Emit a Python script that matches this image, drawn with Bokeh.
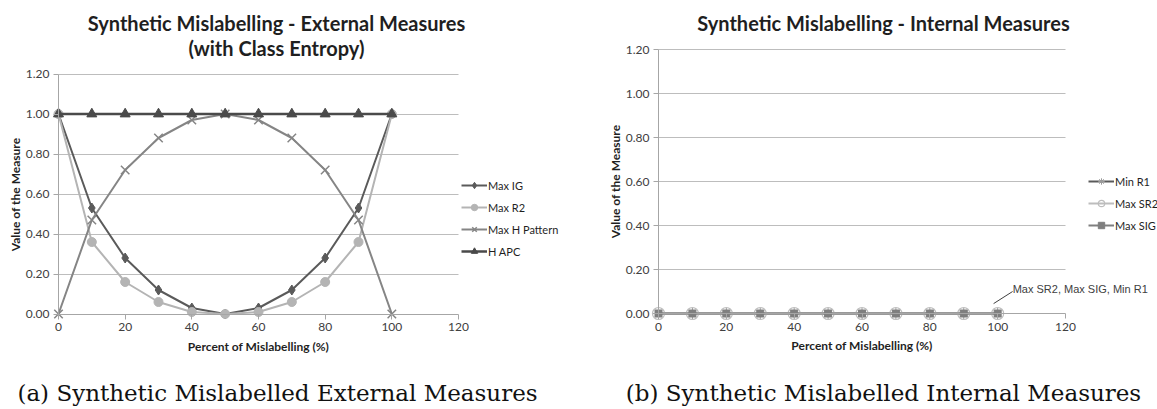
from bokeh.plotting import figure
from bokeh.models import (Range1d, FixedTicker, NumeralTickFormatter, Label, Legend,
                          LegendItem, ColumnDataSource)
from bokeh.layouts import row
from bokeh.embed import file_html
from bokeh.resources import INLINE

# ---------------- data ----------------
pct = [0, 10, 20, 30, 40, 50, 60, 70, 80, 90, 100]
max_ig = [1.00, 0.53, 0.28, 0.12, 0.03, 0.00, 0.03, 0.12, 0.28, 0.53, 1.00]
max_r2 = [1.00, 0.36, 0.16, 0.06, 0.01, 0.00, 0.01, 0.06, 0.16, 0.36, 1.00]
max_h_pattern = [0.00, 0.47, 0.72, 0.88, 0.97, 1.00, 0.97, 0.88, 0.72, 0.47, 0.00]
h_apc = [1.00, 1.00, 1.00, 1.00, 1.00, 1.00, 1.00, 1.00, 1.00, 1.00, 1.00]

min_r1 = [0.0] * 11
max_sr2 = [0.0] * 11
max_sig = [0.0] * 11

x_ticks = [0, 20, 40, 60, 80, 100, 120]
y_ticks = [0.0, 0.2, 0.4, 0.6, 0.8, 1.0, 1.2]
X_MAX, Y_MAX = 120, 1.2

FONT = "Lato"
SERIF = "DejaVu Serif"
TXT = "#1f1f1f"
H = 409


def make_fig(w, px_x0, px_x1, px_y0, px_y1):
    """Figure whose frame is the whole canvas; the chart's axes sit at
    pixel positions px_x0..px_x1 (x = 0..120) and px_y0..px_y1 (y = 0..1.2, from top)."""
    sx = (px_x1 - px_x0) / X_MAX
    sy = (px_y0 - px_y1) / Y_MAX
    xr = Range1d(-px_x0 / sx, (w - px_x0) / sx)
    yr = Range1d(-(H - px_y0) / sy, px_y0 / sy)
    p = figure(frame_width=w, frame_height=H, x_range=xr, y_range=yr,
               min_border=0, output_backend="svg", toolbar_location=None)
    p.xaxis.fixed_location = 0
    p.yaxis.fixed_location = 0
    p.xaxis.bounds = (0, X_MAX)
    p.yaxis.bounds = (0, Y_MAX)
    p.xaxis.ticker = FixedTicker(ticks=x_ticks)
    p.yaxis.ticker = FixedTicker(ticks=y_ticks)
    p.yaxis.formatter = NumeralTickFormatter(format="0.00")
    for ax in (p.xaxis, p.yaxis):
        ax.axis_line_color = "#a6a6a6"
        ax.major_tick_line_color = "#a6a6a6"
        ax.major_tick_out = 5
        ax.major_tick_in = 0
        ax.minor_tick_line_color = None
        ax.major_label_text_font = FONT
        ax.major_label_text_font_size = "12px"
        ax.major_label_text_color = "#404040"
        ax.axis_label_text_font = FONT
        ax.axis_label_text_font_style = "bold"
        ax.axis_label_text_font_size = "12px"
        ax.axis_label_text_color = TXT
    p.xaxis.axis_label = "Percent of Mislabelling (%)"
    p.yaxis.axis_label = "Value of the Measure"
    p.xaxis.axis_label_standoff = 4
    p.yaxis.axis_label_standoff = 0
    p.xaxis.major_label_standoff = 4
    p.yaxis.major_label_standoff = 4
    p.xgrid.grid_line_color = None
    g = p.ygrid[0]
    g.grid_line_color = "#bdbdbd"
    g.ticker = FixedTicker(ticks=[t for t in y_ticks if t > 0])
    g.bounds = (0, Y_MAX)
    if "cross_bounds" in g.properties():
        g.cross_bounds = (0, X_MAX)
    else:
        g.grid_line_color = None
        gy = [t for t in y_ticks if t > 0]
        p.segment(x0=[0] * len(gy), y0=gy, x1=[X_MAX] * len(gy), y1=gy,
                  line_color="#bdbdbd", line_width=1)
    p.outline_line_color = None
    p.background_fill_color = "white"
    p.border_fill_color = "white"
    return p


def text_label(p, x, y, txt, font, size, bold=False, color=TXT):
    p.add_layout(Label(x=x, y=H - y, x_units="screen", y_units="screen", text=txt,
                       text_align="center", text_baseline="middle", text_font=font,
                       text_font_style="bold" if bold else "normal",
                       text_font_size=size, text_color=color))


# ---------------- left chart ----------------
W1 = 580
p1 = make_fig(W1, 58, 458, 313.5, 73.5)

C_IG, C_R2, C_HP, C_APC = "#5a5a5a", "#b4b4b4", "#858585", "#4a4a4a"
r_ig_l = p1.line(pct, max_ig, line_color=C_IG, line_width=2)
r_ig_m = p1.scatter(pct, max_ig, marker="diamond", size=10, color=C_IG)
r_r2_l = p1.line(pct, max_r2, line_color=C_R2, line_width=2)
r_r2_m = p1.scatter(pct, max_r2, marker="circle", size=9, color=C_R2)
r_hp_l = p1.line(pct, max_h_pattern, line_color=C_HP, line_width=2)
r_hp_m = p1.scatter(pct, max_h_pattern, marker="x", size=12, line_color=C_HP, line_width=1.5)
r_apc_l = p1.line(pct, h_apc, line_color=C_APC, line_width=2.5)
r_apc_m = p1.scatter(pct, h_apc, marker="triangle", size=10, color=C_APC)

leg_kw = dict(padding=0, margin=0, spacing=6, glyph_height=16, glyph_width=26,
              label_height=16, label_standoff=1, label_text_font=FONT,
              label_text_color=TXT, background_fill_alpha=0, border_line_color=None)
leg1 = Legend(items=[
    LegendItem(label="Max IG", renderers=[r_ig_l, r_ig_m]),
    LegendItem(label="Max R2", renderers=[r_r2_l, r_r2_m]),
    LegendItem(label="Max H Pattern", renderers=[r_hp_l, r_hp_m]),
    LegendItem(label="H APC", renderers=[r_apc_l, r_apc_m]),
], location=(461, H - 259), label_text_font_size="11px", **leg_kw)
p1.add_layout(leg1)

text_label(p1, 276, 22, "Synthetic Mislabelling - External Measures", FONT, "20px", True)
text_label(p1, 276, 47, "(with Class Entropy)", FONT, "20px", True)
text_label(p1, 277, 392, "(a) Synthetic Mislabelled External Measures", SERIF, "23px",
           color="#111111")

# ---------------- right chart ----------------
W2 = 577
p2 = make_fig(W2, 78, 485, 313, 49)

C_R1, C_SR2, C_SIG = "#5a5a5a", "#bdbdbd", "#7f7f7f"
r_r1_l = p2.line(pct, min_r1, line_color=C_R1, line_width=2)
r_r1_m = p2.scatter(pct, min_r1, marker="asterisk", size=11, line_color="#9a9a9a", line_width=1)
r_sr2_l = p2.line(pct, max_sr2, line_color=C_SR2, line_width=2)
r_sr2_m = p2.scatter(pct, max_sr2, marker="circle", size=12, line_color=C_SR2,
                     fill_color=None, line_width=1.2)
r_sig_l = p2.line(pct, max_sig, line_color=C_SIG, line_width=2)
r_sig_m = p2.scatter(pct, max_sig, marker="square", size=7, color=C_SIG)

leg2 = Legend(items=[
    LegendItem(label="Min R1", renderers=[r_r1_l, r_r1_m]),
    LegendItem(label="Max SR2", renderers=[r_sr2_l, r_sr2_m]),
    LegendItem(label="Max SIG", renderers=[r_sig_l, r_sig_m]),
], location=(508, H - 233), label_text_font_size="11px", **leg_kw)
p2.add_layout(leg2)

# data label with leader line, anchored to the last point
last_x, last_y = pct[-1], max_sig[-1]
p2.add_layout(Label(x=last_x, y=last_y, x_offset=15, y_offset=25,
                    text="Max SR2, Max SIG, Min R1", text_font="Liberation Sans",
                    text_font_size="11px", text_color="#404040", text_baseline="middle"))
src = ColumnDataSource(dict(x0=[last_x - 1.2], y0=[last_y + 0.045],
                            x1=[last_x + 4.4], y1=[last_y + 0.1]))
p2.segment("x0", "y0", "x1", "y1", source=src, line_color="#404040", line_width=1)

text_label(p2, 883 - W1, 22, "Synthetic Mislabelling - Internal Measures", FONT, "20px", True)
text_label(p2, 883 - W1, 392, "(b) Synthetic Mislabelled Internal Measures", SERIF, "23px",
           color="#111111")

layout = row(p1, p2)
open("out.html", "w").write(file_html(layout, INLINE))
